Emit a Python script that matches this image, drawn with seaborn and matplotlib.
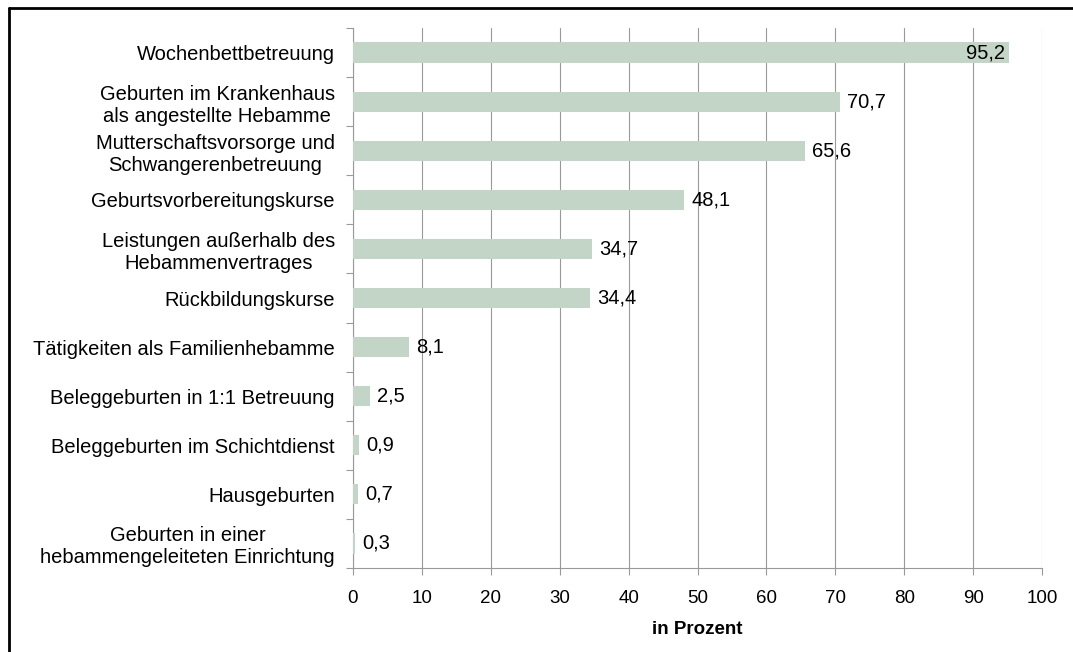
import matplotlib
matplotlib.use("Agg")
import matplotlib.pyplot as plt
import seaborn as sns
import pandas as pd
from matplotlib.lines import Line2D

# data
categories = [
    "Wochenbettbetreuung",
    "Geburten im Krankenhaus\nals angestellte Hebamme",
    "Mutterschaftsvorsorge und\nSchwangerenbetreuung",
    "Geburtsvorbereitungskurse",
    "Leistungen außerhalb des\nHebammenvertrages",
    "Rückbildungskurse",
    "Tätigkeiten als Familienhebamme",
    "Beleggeburten in 1:1 Betreuung",
    "Beleggeburten im Schichtdienst",
    "Hausgeburten",
    "Geburten in einer\nhebammengeleiteten Einrichtung",
]
values = [95.2, 70.7, 65.6, 48.1, 34.7, 34.4, 8.1, 2.5, 0.9, 0.7, 0.3]
x_ticks = list(range(0, 101, 10))
x_label = "in Prozent"

bar_color = "#c3d5c7"
grid_color = "#999999"

sns.set_theme(style="white")
plt.rcParams["font.family"] = ["Liberation Sans", "DejaVu Sans"]
plt.rcParams["text.color"] = "black"
plt.rcParams["xtick.labelcolor"] = "black"
plt.rcParams["ytick.labelcolor"] = "black"
plt.rcParams["axes.labelcolor"] = "black"

df = pd.DataFrame({"Kategorie": categories, "Wert": values})

fig = plt.figure(figsize=(10.73, 6.52), dpi=100)
ax = fig.add_axes([353 / 1073, 1 - 568 / 652, (1042 - 353) / 1073, (568 - 28) / 652])

sns.barplot(data=df, y="Kategorie", x="Wert", color=bar_color, width=0.41,
            saturation=1, linewidth=0, ax=ax, zorder=3)

ax.set_xlim(0, 100)
ax.set_ylim(len(categories) - 0.5, -0.5)
ax.set_xticks(x_ticks)
ax.set_xticklabels([str(t) for t in x_ticks], fontsize=13.5)
ax.set_yticks(range(len(categories)))
ax.set_yticklabels(categories, fontsize=14.5, ha="right", multialignment="center")
ax.tick_params(axis="y", left=True, length=0, pad=13)

# category boundary ticks on the y axis
ax.set_yticks([i - 0.5 for i in range(len(categories) + 1)], minor=True)
ax.tick_params(axis="y", which="minor", left=True, length=5, width=0.8,
               color=grid_color, direction="out")
ax.tick_params(axis="x", bottom=True, length=5, width=0.8, color=grid_color,
               direction="out", pad=11)

ax.set_xlabel(x_label, fontsize=13.5, fontweight="bold", labelpad=10)
ax.set_ylabel("")

ax.grid(axis="x", color=grid_color, linewidth=0.8, zorder=0)
ax.grid(axis="y", visible=False)
for side in ["top", "right"]:
    ax.spines[side].set_visible(False)
for side in ["left", "bottom"]:
    ax.spines[side].set_color(grid_color)
    ax.spines[side].set_linewidth(0.8)

# value labels
for i, v in enumerate(values):
    txt = f"{v:.1f}".replace(".", ",")
    if v > 90:
        ax.annotate(txt, (v, i), xytext=(-3, 0), textcoords="offset points",
                    ha="right", va="center", fontsize=14.5, zorder=4)
    else:
        ax.annotate(txt, (v, i), xytext=(5, 0), textcoords="offset points",
                    ha="left", va="center", fontsize=14.5, zorder=4)

# frame around the figure (left and top visible)
fig.add_artist(Line2D([9 / 1073, 9 / 1073], [0, 1 - 8 / 652], color="black", linewidth=2))
fig.add_artist(Line2D([9 / 1073, 1], [1 - 8 / 652, 1 - 8 / 652], color="black", linewidth=2))

fig.savefig("out.png", dpi=100)
